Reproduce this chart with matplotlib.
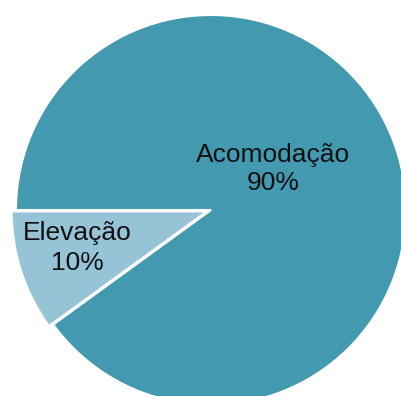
import matplotlib
matplotlib.use("Agg")
import matplotlib.pyplot as plt

categories = ["Acomodação", "Elevação"]
values = [90, 10]
pct_labels = ["90%", "10%"]
colors = ["#4399AF", "#96C4D6"]

W, H = 401, 396
fig = plt.figure(figsize=(W / 100, H / 100), dpi=100)
ax = fig.add_axes([0, 0, 1, 1])

cx, cy, r = 211, H - 210, 195
ax.pie(values, colors=colors, startangle=216, counterclock=True,
       center=(cx, cy), radius=r, explode=[0, 4.5],
       wedgeprops=dict(edgecolor="white", linewidth=1.5), frame=True)
ax.set_xlim(0, W)
ax.set_ylim(0, H)
ax.set_aspect("equal")
ax.axis("off")

font = dict(family=["Liberation Sans", "DejaVu Sans"], fontsize=19, color="#111111",
            ha="center", va="center")
# label positions (pixel coords from top)
pos = {"Acomodação": (273, 155, 183), "Elevação": (77, 233, 263)}
for cat, pct in zip(categories, pct_labels):
    x, y1, y2 = pos[cat]
    ax.text(x, H - y1, cat, **font)
    ax.text(x, H - y2, pct, **font)

fig.savefig("out.png", dpi=100)
